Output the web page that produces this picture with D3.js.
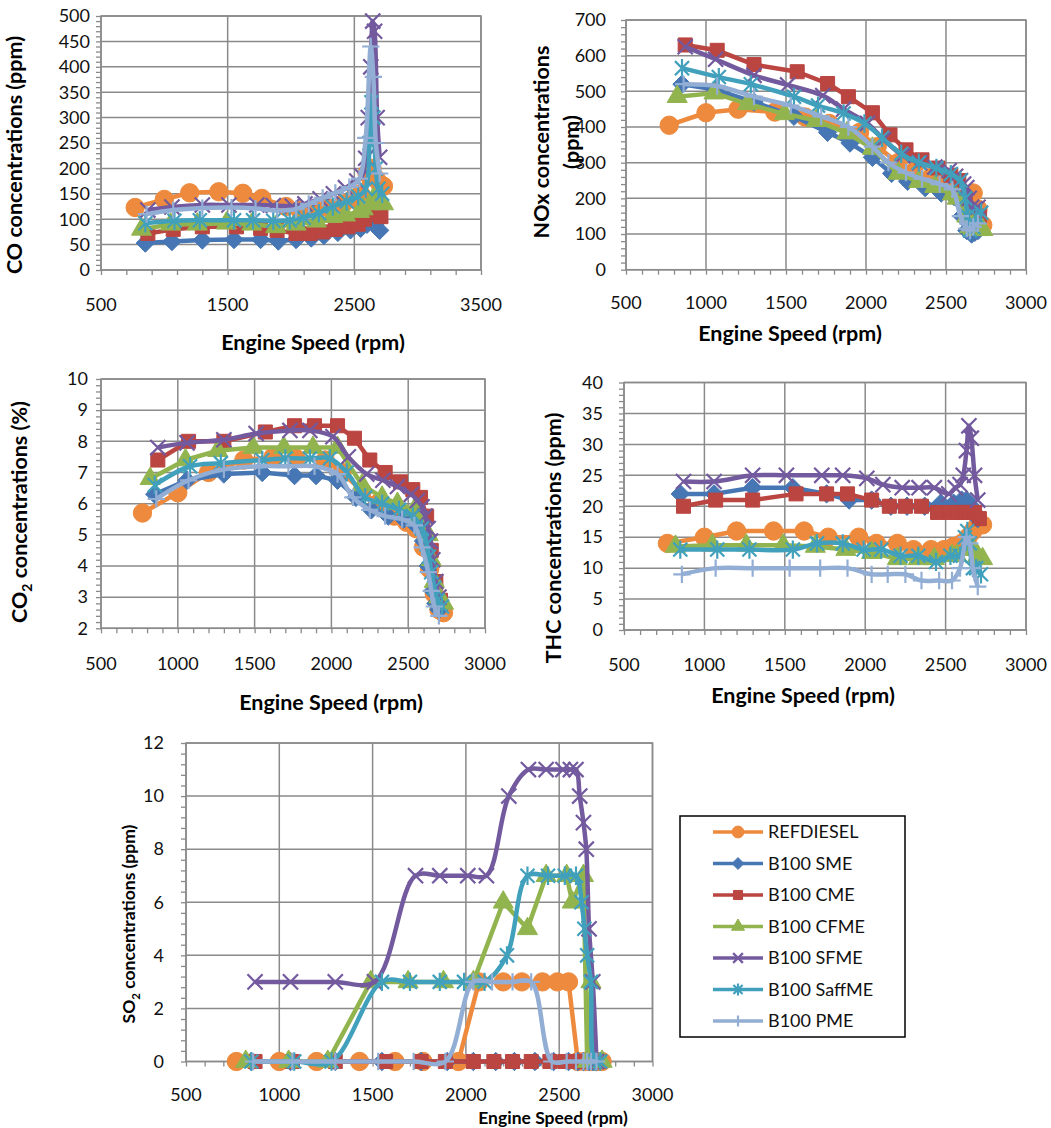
<!DOCTYPE html>
<html>
<head>
<meta charset="utf-8">
<script src="https://cdn.jsdelivr.net/npm/d3@7"></script>
<style>
  body { margin: 0; background: #fff; }
  svg { display: block; font-family: Lato, "Open Sans", sans-serif; }
</style>
</head>
<body>
<div id="chart"></div>
<script>
// fuels, in drawing order (last one ends up on top)
const fuels = ["REFDIESEL", "B100 SME", "B100 CME", "B100 CFME", "B100 SFME", "B100 SaffME", "B100 PME"];
const colors = ["#EE8A3D", "#4677B4", "#BA4541", "#92B44F", "#735A9E", "#41A0BC", "#93AED5"];
const markers = ["circle", "diamond", "square", "triangle", "x", "star", "plus"];
const smoothed = [false, false, false, false, true, true, true];

// engine speeds (rpm) for each fuel
const speedRef = [770, 1000, 1200, 1430, 1620, 1770, 1960, 2070, 2200, 2300, 2410, 2490, 2550, 2600, 2640, 2670, 2700, 2730];
const speedSme = [850, 1060, 1300, 1550, 1760, 1900, 2040, 2160, 2260, 2370, 2470, 2550, 2600, 2630, 2660, 2680, 2700];
const speedCme = [870, 1070, 1300, 1570, 1760, 1890, 2040, 2150, 2250, 2350, 2450, 2530, 2580, 2620, 2650, 2680, 2710];
const speedCfme = [820, 1050, 1260, 1490, 1690, 1880, 2040, 2200, 2330, 2430, 2540, 2570, 2630, 2650, 2670, 2700, 2730];
const speedSfme = [870, 1060, 1300, 1510, 1730, 1860, 2010, 2110, 2230, 2335, 2430, 2520, 2560, 2590, 2610, 2630, 2645, 2660, 2680, 2700];
const speedSaff = [850, 1080, 1280, 1550, 1700, 1860, 1990, 2100, 2220, 2330, 2440, 2530, 2590, 2620, 2635, 2650, 2670, 2690, 2720];
const speedPme = [860, 1070, 1300, 1530, 1720, 1890, 2040, 2140, 2250, 2350, 2460, 2540, 2590, 2630, 2650, 2670, 2700];
const speeds = [speedRef, speedSme, speedCme, speedCfme, speedSfme, speedSaff, speedPme];

// concentrations, one row per fuel (same order as fuels)
const coValues = [
  [123, 139, 152, 154, 151, 141, 125, 118, 118, 122, 130, 140, 150, 190, 200, 180, 170, 165],
  [53, 56, 59, 60, 60, 57, 60, 63, 68, 74, 79, 82, 90, 98, 102, 95, 78],
  [72, 80, 85, 85, 82, 78, 72, 72, 75, 80, 85, 90, 100, 110, 115, 110, 105],
  [80, 90, 90, 92, 90, 85, 90, 96, 105, 108, 115, 120, 130, 140, 135, 132, 130],
  [118, 124, 128, 128, 128, 127, 126, 130, 140, 150, 162, 175, 185, 220, 300, 400, 490, 470, 300, 222],
  [92, 97, 98, 98, 98, 97, 98, 103, 112, 125, 135, 145, 160, 250, 330, 300, 200, 160, 150],
  [110, 118, 122, 123, 121, 117, 120, 130, 142, 152, 163, 180, 260, 440, 380, 250, 190]
];
const noxValues = [
  [405, 440, 450, 442, 428, 410, 385, 345, 300, 275, 260, 245, 230, 215, 200, 215, 170, 125],
  [520, 505, 470, 430, 385, 355, 315, 270, 248, 230, 215, 205, 150, 110, 100, 105, 110],
  [630, 615, 575, 555, 522, 485, 440, 378, 336, 308, 285, 265, 250, 200, 160, 140, 150],
  [485, 495, 465, 437, 418, 383, 340, 270, 247, 233, 212, 200, 150, 120, 115, 112, 112],
  [625, 590, 545, 518, 488, 450, 410, 365, 320, 300, 288, 278, 262, 250, 240, 230, 200, 175, 170, 175],
  [565, 540, 520, 485, 460, 438, 410, 370, 325, 300, 285, 268, 250, 200, 150, 110, 120, 150, 160],
  [520, 515, 485, 460, 430, 400, 345, 300, 272, 255, 240, 225, 150, 115, 110, 120, 130]
];
const co2Values = [
  [5.7, 6.35, 7.0, 7.4, 7.5, 7.45, 7.4, 7.0, 6.4, 6.0, 5.6, 5.4, 5.2, 4.6, 3.9, 3.1, 2.6, 2.5],
  [6.3, 6.75, 6.95, 7.0, 6.9, 6.9, 6.75, 6.2, 5.8, 5.6, 5.5, 5.3, 4.8, 4.0, 3.2, 2.8, 2.6],
  [7.4, 8.0, 8.0, 8.3, 8.5, 8.5, 8.5, 8.1, 7.4, 7.0, 6.7, 6.45, 6.2, 5.6, 4.5, 3.5, 2.9],
  [6.8, 7.4, 7.7, 7.8, 7.8, 7.8, 7.8, 6.6, 6.2, 6.0, 5.8, 5.6, 5.0, 4.2, 3.5, 3.0, 2.8],
  [7.8, 7.95, 8.05, 8.25, 8.35, 8.35, 8.15, 7.5, 6.95, 6.75, 6.55, 6.3, 6.1, 5.9, 5.6, 5.2, 4.8, 4.2, 3.5, 3.0],
  [6.6, 7.2, 7.3, 7.4, 7.45, 7.45, 7.45, 7.0, 6.2, 6.0, 5.8, 5.6, 5.2, 4.7, 4.3, 3.8, 3.3, 2.9, 2.7],
  [6.15, 6.75, 7.1, 7.2, 7.2, 7.2, 6.95, 6.2, 5.8, 5.6, 5.5, 5.3, 4.6, 3.8, 3.2, 2.7, 2.4]
];
const thcValues = [
  [14, 15, 16, 16, 16, 15, 15, 14, 14, 13, 13, 13, 13.5, 14, 15, 16, 17, 17],
  [22, 22, 23, 23, 22, 21, 21, 20, 20, 20, 20.5, 20.5, 21, 21, 20, 19, 18],
  [20, 21, 21, 22, 22, 22, 21, 20, 20, 20, 19, 19, 19, 19, 19, 19, 18],
  [13.5, 13.7, 13.7, 13.7, 13.5, 13, 12.5, 11.5, 11.5, 11.5, 12, 12, 13, 14, 13, 12, 11.5],
  [24, 24, 25, 25, 25, 25, 24.5, 23.5, 23, 23, 23, 22, 23, 23.5, 25, 29, 33, 31, 25, 21],
  [13, 13, 13, 13, 14, 14, 13, 13, 12, 12, 11, 12, 12, 15, 16, 14, 10, 10, 9],
  [9, 10, 10, 10, 10, 10, 9, 9, 9, 8, 8, 8, 10, 15, 14, 10, 7]
];
const so2Values = [
  [0, 0, 0, 0, 0, 0, 0, 3, 3, 3, 3, 3, 3, 0, 0, 0, 0, 0],
  [0, 0, 0, 0, 0, 0, 0, 0, 0, 0, 0, 0, 0, 0, 0, 0, 0],
  [0, 0, 0, 0, 0, 0, 0, 0, 0, 0, 0, 0, 0, 0, 0, 0, 0],
  [0, 0, 0, 3, 3, 3, 3, 6, 5, 7, 7, 6, 7, 0, 3, 0, 0],
  [3, 3, 3, 3, 7, 7, 7, 7, 10, 11, 11, 11, 11, 11, 10, 9, 8, 5, 3, 0],
  [0, 0, 0, 3, 3, 3, 3, 3, 4, 7, 7, 7, 7, 6, 5, 4, 3, 0, 0],
  [0, 0, 0, 0, 0, 0, 3, 3, 3, 3, 0, 0, 0, 0, 0, 0, 0]
];

// axis ticks
const xTicksWide = [500, 1500, 2500, 3500];
const xTicks = [500, 1000, 1500, 2000, 2500, 3000];
const coTicks = d3.range(0, 501, 50);
const noxTicks = d3.range(0, 701, 100);
const co2Ticks = d3.range(2, 10.01, 1);
const thcTicks = d3.range(0, 41, 5);
const so2Ticks = d3.range(0, 12.01, 2);

const GRID = "#8a8a8a";

function markerPath(type, s) {
  switch (type) {
    case "circle": return d3.symbol(d3.symbolCircle, Math.PI * 8.5 * 8.5 * s * s)();
    case "square": return d3.symbol(d3.symbolSquare, 13 * 13 * s * s)();
    case "triangle": return d3.symbol(d3.symbolTriangle, 150 * s * s)();
    case "diamond": return `M0,${-8.5 * s}L${8.5 * s},0L0,${8.5 * s}L${-8.5 * s},0Z`;
    case "x": return `M${-7 * s},${-7 * s}L${7 * s},${7 * s}M${-7 * s},${7 * s}L${7 * s},${-7 * s}`;
    case "star": return `M${-6.5 * s},${-6.5 * s}L${6.5 * s},${6.5 * s}M${-6.5 * s},${6.5 * s}L${6.5 * s},${-6.5 * s}M0,${-8.5 * s}L0,${8.5 * s}`;
    case "plus": return `M0,${-8 * s}L0,${8 * s}M${-8 * s},0L${8 * s},0`;
  }
}
const isStroked = (t) => t === "x" || t === "star" || t === "plus";

function drawMarkers(g, pts, i, s) {
  const t = markers[i];
  g.selectAll(null)
    .data(pts)
    .join("path")
    .attr("transform", (d) => `translate(${d[0]},${d[1]})`)
    .attr("d", markerPath(t, s))
    .attr("fill", isStroked(t) ? "none" : colors[i])
    .attr("stroke", colors[i])
    .attr("stroke-width", isStroked(t) ? 2.2 : 1);
}

function drawPanel(svg, cfg) {
  const x = d3.scaleLinear(cfg.xDomain, [cfg.left, cfg.right]);
  const y = d3.scaleLinear(cfg.yDomain, [cfg.bottom, cfg.top]);
  const g = svg.append("g");

  // gridlines
  g.append("g")
    .selectAll("line")
    .data(cfg.yTicks)
    .join("line")
    .attr("x1", cfg.left).attr("x2", cfg.right)
    .attr("y1", (d) => y(d)).attr("y2", (d) => y(d))
    .attr("stroke", GRID).attr("stroke-width", 1.5);
  g.append("g")
    .selectAll("line")
    .data(cfg.xTicks)
    .join("line")
    .attr("x1", (d) => x(d)).attr("x2", (d) => x(d))
    .attr("y1", cfg.top).attr("y2", cfg.bottom)
    .attr("stroke", GRID).attr("stroke-width", 1.5);

  // minor + major ticks
  const minorX = d3.range(cfg.xDomain[0], cfg.xDomain[1] + 1, cfg.xMinor);
  const minorY = d3.range(cfg.yDomain[0], cfg.yDomain[1] + cfg.yMinor / 2, cfg.yMinor);
  g.append("g")
    .attr("transform", `translate(0,${cfg.bottom})`)
    .call(d3.axisBottom(x).tickValues(minorX).tickSize(5).tickFormat(""))
    .call((a) => a.select(".domain").remove())
    .call((a) => a.selectAll("line").attr("stroke", GRID).attr("stroke-width", 1.3));
  g.append("g")
    .attr("transform", `translate(${cfg.left},0)`)
    .call(d3.axisLeft(y).tickValues(minorY).tickSize(5).tickFormat(""))
    .call((a) => a.select(".domain").remove())
    .call((a) => a.selectAll("line").attr("stroke", GRID).attr("stroke-width", 1.3));

  // tick labels
  g.append("g")
    .selectAll("text")
    .data(cfg.xTicks)
    .join("text")
    .attr("x", (d) => x(d))
    .attr("y", cfg.bottom + cfg.xLabelOffset)
    .attr("dy", "0.35em")
    .attr("text-anchor", "middle")
    .attr("font-size", 18)
    .attr("fill", "#111")
    .text((d) => d);
  g.append("g")
    .selectAll("text")
    .data(cfg.yTicks)
    .join("text")
    .attr("x", cfg.left - cfg.yLabelOffset)
    .attr("y", (d) => y(d))
    .attr("dy", "0.35em")
    .attr("text-anchor", "end")
    .attr("font-size", 18)
    .attr("fill", "#111")
    .text((d) => d);

  // plot border
  g.append("rect")
    .attr("x", cfg.left).attr("y", cfg.top)
    .attr("width", cfg.right - cfg.left).attr("height", cfg.bottom - cfg.top)
    .attr("fill", "none").attr("stroke", GRID).attr("stroke-width", 1.5);

  // series
  cfg.values.forEach((vals, i) => {
    const pts = speeds[i].map((s, j) => [x(s), y(vals[j])]);
    const line = d3.line().curve(smoothed[i] ? d3.curveCatmullRom.alpha(0.5) : d3.curveLinear);
    const sg = g.append("g");
    sg.append("path")
      .attr("d", line(pts))
      .attr("fill", "none")
      .attr("stroke", colors[i])
      .attr("stroke-width", 4.5)
      .attr("stroke-linejoin", "round");
    drawMarkers(sg, pts, i, 1.08);
  });

  // axis titles
  g.append("text")
    .attr("x", cfg.xTitle[0]).attr("y", cfg.xTitle[1])
    .attr("dy", "0.35em")
    .attr("text-anchor", "middle")
    .attr("font-size", cfg.titleSize)
    .attr("font-weight", "bold")
    .text("Engine Speed (rpm)");

  cfg.yTitle.forEach(([tx, ty, parts]) => {
    const t = g.append("text")
      .attr("transform", `translate(${tx},${ty}) rotate(-90)`)
      .attr("dy", "0.35em")
      .attr("text-anchor", "middle")
      .attr("font-size", cfg.titleSize)
      .attr("font-weight", "bold");
    parts.forEach((p) => {
      if (p.sub) {
        t.append("tspan").attr("font-size", cfg.titleSize * 0.65).attr("dy", 5).text(p.text);
      } else {
        t.append("tspan").attr("dy", p.after ? -5 : 0).text(p.text);
      }
    });
  });
}

function drawLegend(svg) {
  const lg = svg.append("g");
  lg.append("rect")
    .attr("x", 680).attr("y", 816)
    .attr("width", 225).attr("height", 221)
    .attr("fill", "#fff").attr("stroke", "#000").attr("stroke-width", 1.5);
  fuels.forEach((f, i) => {
    const cy = 832 + i * 31.5;
    lg.append("line")
      .attr("x1", 713).attr("x2", 763).attr("y1", cy).attr("y2", cy)
      .attr("stroke", colors[i]).attr("stroke-width", 3.5);
    drawMarkers(lg.append("g"), [[738, cy]], i, 0.7);
    lg.append("text")
      .attr("x", 768).attr("y", cy)
      .attr("dy", "0.35em")
      .attr("font-size", 18)
      .attr("fill", "#111")
      .text(f);
  });
}

function init() {
  const svg = d3.select("#chart")
    .append("svg")
    .attr("width", 1051)
    .attr("height", 1128);

  drawPanel(svg, {
    left: 101, right: 481, top: 16, bottom: 270,
    xDomain: [500, 3500], yDomain: [0, 500], xTicks: xTicksWide, yTicks: coTicks,
    xMinor: 200, yMinor: 10, xLabelOffset: 35, yLabelOffset: 11,
    values: coValues, titleSize: 21.5,
    xTitle: [313, 342],
    yTitle: [[22, 155, [{ text: "CO concentrations (ppm)" }]]]
  });
  drawPanel(svg, {
    left: 626, right: 1026, top: 20, bottom: 269.7,
    xDomain: [500, 3000], yDomain: [0, 700], xTicks: xTicks, yTicks: noxTicks,
    xMinor: 100, yMinor: 20, xLabelOffset: 33, yLabelOffset: 20,
    values: noxValues, titleSize: 21.5,
    xTitle: [790, 333],
    yTitle: [[549, 142, [{ text: "NOx concentrations" }]], [579, 142, [{ text: "(ppm)" }]]]
  });
  drawPanel(svg, {
    left: 101, right: 485, top: 379, bottom: 628.3,
    xDomain: [500, 3000], yDomain: [2, 10], xTicks: xTicks, yTicks: co2Ticks,
    xMinor: 100, yMinor: 0.2, xLabelOffset: 35, yLabelOffset: 13,
    values: co2Values, titleSize: 21.5,
    xTitle: [331, 702],
    yTitle: [[27, 512, [{ text: "CO" }, { text: "2", sub: true }, { text: " concentrations (%)", after: true }]]]
  });
  drawPanel(svg, {
    left: 624, right: 1026, top: 382.5, bottom: 630,
    xDomain: [500, 3000], yDomain: [0, 40], xTicks: xTicks, yTicks: thcTicks,
    xMinor: 100, yMinor: 1, xLabelOffset: 35, yLabelOffset: 21,
    values: thcValues, titleSize: 21.5,
    xTitle: [803, 695],
    yTitle: [[561, 538, [{ text: "THC concentrations (ppm)" }]]]
  });
  drawPanel(svg, {
    left: 186, right: 652.5, top: 743, bottom: 1061.5,
    xDomain: [500, 3000], yDomain: [0, 12], xTicks: xTicks, yTicks: so2Ticks,
    xMinor: 100, yMinor: 0.4, xLabelOffset: 33, yLabelOffset: 22,
    values: so2Values, titleSize: 17.5,
    xTitle: [553, 1118],
    yTitle: [[135, 924, [{ text: "SO" }, { text: "2", sub: true }, { text: " concentrations (ppm)", after: true }]]]
  });

  drawLegend(svg);
}

window.addEventListener("load", init);
</script>
</body>
</html>
